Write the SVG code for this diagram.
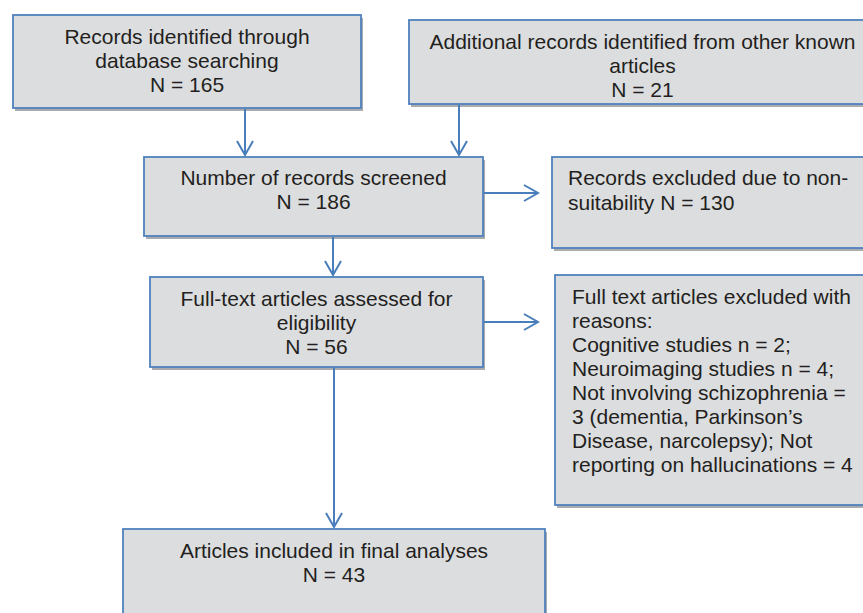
<svg xmlns="http://www.w3.org/2000/svg" width="863" height="613" viewBox="0 0 863 613">
  <style>
    .box { fill: #dcdddf; stroke: #4f81bd; stroke-width: 1.8; }
    .shadow { fill: #a9abae; }
    .t { font-family: "Liberation Sans", Arial, sans-serif; font-size: 21px; fill: #231f20; }
    .c { text-anchor: middle; }
    .conn { fill: none; stroke: #4a7ebb; stroke-width: 2; marker-end: url(#arr); }
  </style>
  <defs>
    <marker id="arr" viewBox="-16 -10 18 20" refX="0" refY="0" markerWidth="18" markerHeight="20" markerUnits="userSpaceOnUse" orient="auto">
      <path d="M-14,-8 L0,0 L-14,8" fill="none" stroke="#4a7ebb" stroke-width="2"/>
    </marker>
  </defs>
  <rect width="863" height="613" fill="#ffffff"/>

  <g id="records-db">
    <rect class="shadow" x="15" y="18" width="348" height="93"/>
    <rect class="box" x="13" y="15" width="348" height="93"/>
    <text class="t c" x="187" y="43.5">Records identified through</text>
    <text class="t c" x="187" y="67.5">database searching</text>
    <text class="t c" x="187" y="91.5">N = 165</text>
  </g>

  <g id="records-other">
    <rect class="shadow" x="411" y="23" width="467" height="84"/>
    <rect class="box" x="409" y="20" width="467" height="84"/>
    <text class="t c" x="642.5" y="48.5">Additional records identified from other known</text>
    <text class="t c" x="642.5" y="72.5">articles</text>
    <text class="t c" x="642.5" y="96.5">N = 21</text>
  </g>

  <g id="screened">
    <rect class="shadow" x="146" y="160" width="339" height="79"/>
    <rect class="box" x="144" y="157" width="339" height="79"/>
    <text class="t c" x="313.5" y="185">Number of records screened</text>
    <text class="t c" x="313.5" y="209">N = 186</text>
  </g>

  <g id="excluded-suitability">
    <rect class="shadow" x="554" y="160" width="320" height="91"/>
    <rect class="box" x="552" y="157" width="320" height="91"/>
    <text class="t" x="568" y="185">Records excluded due to non-</text>
    <text class="t" x="568" y="209.5">suitability N = 130</text>
  </g>

  <g id="assessed">
    <rect class="shadow" x="152" y="280" width="333" height="90"/>
    <rect class="box" x="150" y="277" width="333" height="90"/>
    <text class="t c" x="316.5" y="306">Full-text articles assessed for</text>
    <text class="t c" x="316.5" y="330">eligibility</text>
    <text class="t c" x="316.5" y="354">N = 56</text>
  </g>

  <g id="excluded-reasons">
    <rect class="shadow" x="557" y="278" width="320" height="230"/>
    <rect class="box" x="555" y="275" width="320" height="230"/>
    <text class="t" x="572" y="304">Full text articles excluded with</text>
    <text class="t" x="572" y="328">reasons:</text>
    <text class="t" x="572" y="352">Cognitive studies n = 2;</text>
    <text class="t" x="572" y="376">Neuroimaging studies n = 4;</text>
    <text class="t" x="572" y="400">Not involving schizophrenia =</text>
    <text class="t" x="572" y="424">3 (dementia, Parkinson’s</text>
    <text class="t" x="572" y="448">Disease, narcolepsy); Not</text>
    <text class="t" x="572" y="472">reporting on hallucinations = 4</text>
  </g>

  <g id="included">
    <rect class="shadow" x="125" y="532" width="422" height="100"/>
    <rect class="box" x="123" y="529" width="422" height="100"/>
    <text class="t c" x="334" y="558">Articles included in final analyses</text>
    <text class="t c" x="334" y="582">N = 43</text>
  </g>

  <g id="connectors">
    <line class="conn" x1="245" y1="109" x2="245" y2="155"/>
    <line class="conn" x1="459" y1="105" x2="459" y2="155"/>
    <line class="conn" x1="484" y1="193" x2="538" y2="193"/>
    <line class="conn" x1="333" y1="237" x2="333" y2="275"/>
    <line class="conn" x1="484" y1="322" x2="538" y2="322"/>
    <line class="conn" x1="334" y1="368" x2="334" y2="527"/>
  </g>
</svg>
